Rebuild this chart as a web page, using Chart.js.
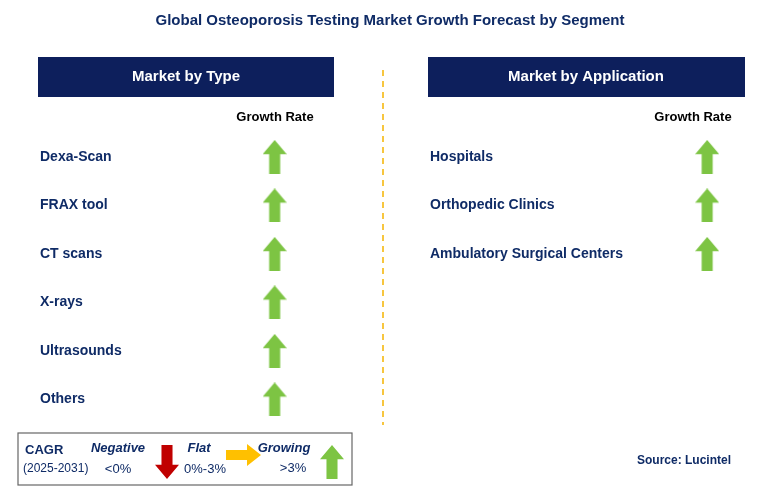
<!DOCTYPE html>
<html><head><meta charset="utf-8">
<script src="https://cdn.jsdelivr.net/npm/chart.js@4"></script>
<style>html,body{margin:0;padding:0;background:#fff;overflow:hidden}canvas{display:block}</style>
</head><body><canvas id="c" width="763" height="494" style="width:763px;height:494px"></canvas>
<script>
const typeSegments=["Dexa-Scan","FRAX tool","CT scans","X-rays","Ultrasounds","Others"];
const appSegments=["Hospitals","Orthopedic Clinics","Ambulatory Surgical Centers"];
const typeGrowth=["up","up","up","up","up","up"];
const appGrowth=["up","up","up"];
const NAVY="#0f2b66", GREEN="#7dc443";
function arrow(dir,w,h,color){const c=document.createElement('canvas');c.width=w;c.height=h;const g=c.getContext('2d');g.fillStyle=color;g.beginPath();
 if(dir==="up"){g.moveTo(w/2,0);g.lineTo(w,h*0.42);g.lineTo(w*0.73,h*0.42);g.lineTo(w*0.73,h);g.lineTo(w*0.27,h);g.lineTo(w*0.27,h*0.42);g.lineTo(0,h*0.42);}
 else if(dir==="down"){g.moveTo(w/2,h);g.lineTo(w,h*0.58);g.lineTo(w*0.73,h*0.58);g.lineTo(w*0.73,0);g.lineTo(w*0.27,0);g.lineTo(w*0.27,h*0.58);g.lineTo(0,h*0.58);}
 else {g.moveTo(w,h/2);g.lineTo(w*0.6,0);g.lineTo(w*0.6,h*0.27);g.lineTo(0,h*0.27);g.lineTo(0,h*0.73);g.lineTo(w*0.6,h*0.73);g.lineTo(w*0.6,h);}
 g.closePath();g.fill();return c;}
const up=arrow("up",24,34,GREEN);
const toPts=(arr,col)=>arr.map((d,i)=>({x:col,y:i}));
const deco={id:'deco',afterDraw(ch){const g=ch.ctx,xs=ch.scales.x,ys=ch.scales.y;g.save();
 g.textBaseline='middle';g.fillStyle=NAVY;g.font='bold 15px Arial, "Liberation Sans"';g.textAlign='center';g.fillText("Global Osteoporosis Testing Market Growth Forecast by Segment",390,21);
 g.fillStyle="#0d1f5c";g.fillRect(38,57,296,40);g.fillRect(428,57,317,40);
 g.fillStyle="#fff";g.font='bold 15px Arial, "Liberation Sans"';g.fillText("Market by Type",186,77);g.fillText("Market by Application",586,77);
 g.fillStyle="#000";g.font='bold 13px Arial, "Liberation Sans"';g.fillText("Growth Rate",275,117);g.fillText("Growth Rate",693,117);
 g.strokeStyle="#f5b400";g.lineWidth=1.5;g.setLineDash([6,5]);g.beginPath();g.moveTo(383,70);g.lineTo(383,425);g.stroke();g.setLineDash([]);
 g.textAlign='left';g.fillStyle=NAVY;g.font='bold 14px Arial, "Liberation Sans"';
 typeSegments.forEach((s,i)=>g.fillText(s,40,ys.getPixelForValue(i)));
 appSegments.forEach((s,i)=>g.fillText(s,430,ys.getPixelForValue(i)));
 g.strokeStyle="#666";g.lineWidth=1.2;g.strokeRect(18,433,334,52);
 g.font='bold 13px Arial, "Liberation Sans"';g.fillText("CAGR",25,450);g.font='12px Arial, "Liberation Sans"';g.fillText("(2025-2031)",23,469);
 g.font='italic bold 13px Arial, "Liberation Sans"';g.textAlign='center';g.fillText("Negative",118,448);g.fillText("Flat",199,448);g.fillText("Growing",284,448);
 g.font='13px Arial, "Liberation Sans"';g.fillText("<0%",118,469);g.fillText("0%-3%",205,469);g.fillText(">3%",293,468);
 g.drawImage(arrow("down",24,34,"#c00000"),155,445);g.drawImage(arrow("right",35,22,"#ffc000"),226,444);g.drawImage(arrow("up",24,34,GREEN),320,445);
 g.textAlign='right';g.fillStyle=NAVY;g.font='bold 12px Arial, "Liberation Sans"';g.fillText("Source: Lucintel",731,461);
 g.restore();}};
new Chart(document.getElementById('c'),{type:'scatter',
 data:{datasets:[{data:toPts(typeGrowth,0),pointStyle:up,radius:12},{data:toPts(appGrowth,1),pointStyle:up,radius:12}]},
 options:{responsive:false,animation:false,devicePixelRatio:1,layout:{padding:0},
  plugins:{legend:{display:false},tooltip:{enabled:false}},
  scales:{x:{type:'linear',display:false,min:-0.605,max:1.099},y:{type:'linear',display:false,reverse:true,min:-2.967,max:6.682}}},
 plugins:[deco]});
</script></body></html>
